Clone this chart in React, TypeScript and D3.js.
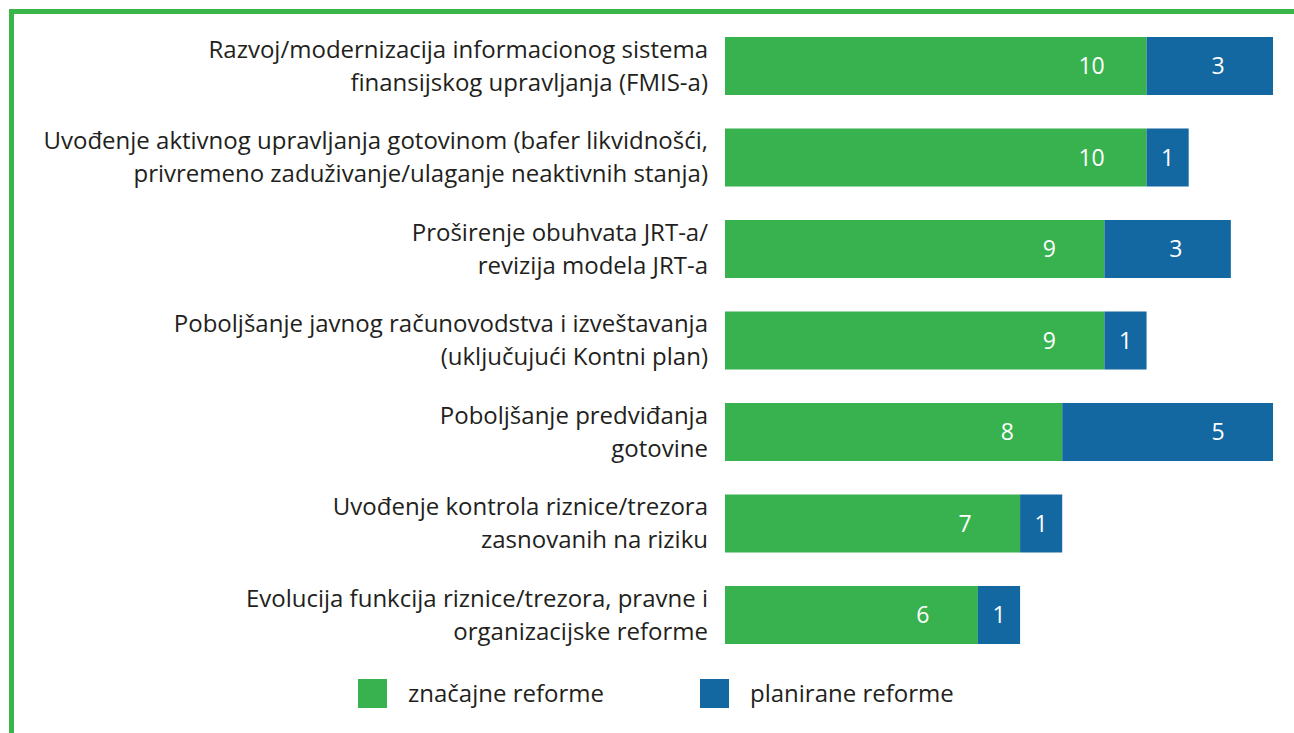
import React from "react";
import * as d3 from "d3";

const categories: string[][] = [
  ["Razvoj/modernizacija informacionog sistema", "finansijskog upravljanja (FMIS-a)"],
  ["Uvođenje aktivnog upravljanja gotovinom (bafer likvidnošći,", "privremeno zaduživanje/ulaganje neaktivnih stanja)"],
  ["Proširenje obuhvata JRT-a/", "revizija modela JRT-a"],
  ["Poboljšanje javnog računovodstva i izveštavanja", "(uključujući Kontni plan)"],
  ["Poboljšanje predviđanja", "gotovine"],
  ["Uvođenje kontrola riznice/trezora", "zasnovanih na riziku"],
  ["Evolucija funkcija riznice/trezora, pravne i", "organizacijske reforme"],
];
const significant = [10, 10, 9, 9, 8, 7, 6];
const planned = [3, 1, 3, 1, 5, 1, 1];
const seriesNames = ["značajne reforme", "planirane reforme"];
const colors = ["#37b24f", "#1468a1"];

const W = 1294;
const H = 733;
const FONT = "'Open Sans', 'Noto Sans', sans-serif";

export default function App() {
  const x = d3.scaleLinear().domain([0, 13]).range([725, 1273]);
  const y = d3
    .scaleBand<number>()
    .domain(d3.range(categories.length))
    .range([37 - 16.75, 644 + 16.75])
    .paddingInner(0.366)
    .paddingOuter(0.183);

  const stack = d3
    .stack<number>()
    .keys(["a", "b"])
    .value((i, k) => (k === "a" ? significant[i] : planned[i]));
  const series = stack(d3.range(categories.length));

  const bw = y.bandwidth();
  const textX = 708;
  const lineGap = 33;

  return (
    <div style={{ position: "fixed", left: 0, top: 0 }}>
      <svg width={W} height={H} style={{ display: "block", background: "#fff" }}>
        <line x1={11.5} x2={11.5} y1={9} y2={H} stroke="#39b54a" strokeWidth={5} />
        <line x1={9} x2={W} y1={11.5} y2={11.5} stroke="#39b54a" strokeWidth={5} />
        {series.map((s, si) =>
          s.map((d, i) => {
            const x0 = x(d[0]);
            const x1 = x(d[1]);
            const yy = y(i)!;
            const lx = Math.max((x0 + x1) / 2, x1 - 55);
            return (
              <g key={`${si}-${i}`}>
                <rect x={x0} y={yy} width={x1 - x0} height={bw} fill={colors[si]} />
                <text
                  x={lx}
                  y={yy + bw / 2}
                  dy="0.35em"
                  textAnchor="middle"
                  fill="#fff"
                  fontFamily={FONT}
                  fontSize={23}
                >
                  {d[1] - d[0]}
                </text>
              </g>
            );
          })
        )}
        {categories.map((lines, i) => {
          const cy = y(i)! + bw / 2;
          return (
            <text
              key={i}
              textAnchor="end"
              fill="#231f20"
              fontFamily={FONT}
              fontSize={24}
            >
              {lines.map((l, j) => (
                <tspan key={j} x={textX} y={cy + (j - (lines.length - 1) / 2) * lineGap} dy="0.35em">
                  {l}
                </tspan>
              ))}
            </text>
          );
        })}
        {seriesNames.map((n, i) => {
          const lx = [358, 700][i];
          return (
            <g key={n}>
              <rect x={lx} y={679} width={29} height={29} fill={colors[i]} />
              <text x={lx + 50} y={694} dy="0.35em" fill="#231f20" fontFamily={FONT} fontSize={24}>
                {n}
              </text>
            </g>
          );
        })}
      </svg>
    </div>
  );
}
